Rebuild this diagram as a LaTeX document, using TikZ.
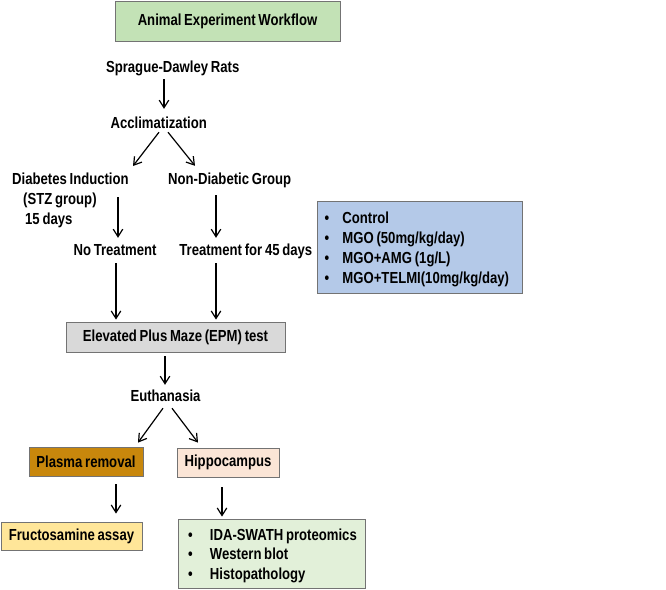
\documentclass[tikz,border=0pt]{standalone}
\usepackage{fontspec}
\setmainfont{Liberation Sans}[FakeStretch=0.82,WordSpace=0.75]
\usetikzlibrary{arrows.meta,shadows}
\definecolor{titlegreen}{HTML}{C3E2B6}
\definecolor{listblue}{HTML}{B4C9E8}
\definecolor{epmgray}{HTML}{D9D9D9}
\definecolor{plasmabrown}{HTML}{C8870C}
\definecolor{hippopink}{HTML}{FBE5D6}
\definecolor{frucyellow}{HTML}{FFE699}
\definecolor{listgreen}{HTML}{E2F0D9}
\tikzset{
  lbl/.style={font=\bfseries\fontsize{16}{18}\selectfont, inner sep=0pt, text height=12pt, text depth=3.5pt},
  multi/.style={font=\bfseries\fontsize{16}{20}\selectfont, inner sep=0pt, align=left},
  boxed/.style={draw=black!55, line width=0.8pt, inner sep=0pt,
    font=\bfseries\fontsize{16}{18}\selectfont,
    drop shadow={shadow xshift=1.2pt, shadow yshift=-1.2pt, opacity=0.3, fill=black}},
  arr/.style={-{Straight Barb[length=7.5pt,width=9.5pt]}, line width=1.2pt},
}
\begin{document}
\begin{tikzpicture}[x=1pt,y=-1pt]
\useasboundingbox (0,0) rectangle (666,589);

% boxes
\node[boxed, fill=titlegreen, minimum width=225pt, minimum height=40pt] (title) at (227.5,21) {Animal Experiment Workflow};
\node[boxed, fill=listblue, minimum width=205pt, minimum height=92pt,
      font=\bfseries\fontsize{16}{20}\selectfont] (groups) at (419.5,247)
  {\raisebox{-2pt}[\height][\depth]{\makebox[196pt][l]{\begin{tabular}{@{\hspace{3pt}}p{18pt}@{}l@{}}
   \textbullet & Control\\
   \textbullet & MGO (50mg/kg/day)\\
   \textbullet & MGO+AMG (1g/L)\\
   \textbullet & MGO+TELMI(10mg/kg/day)
   \end{tabular}}}};
\node[boxed, fill=epmgray, minimum width=219pt, minimum height=30pt] (epm) at (175.5,337) {Elevated Plus Maze (EPM) test};
\node[boxed, fill=plasmabrown, minimum width=114pt, minimum height=29pt] (plasma) at (86,461.5) {Plasma removal};
\node[boxed, fill=hippopink, minimum width=102pt, minimum height=29pt] (hippo) at (228,462.5) {Hippocampus};
\node[boxed, fill=frucyellow, minimum width=141pt, minimum height=28pt] (fruc) at (71.5,536) {Fructosamine assay};
\node[boxed, fill=listgreen, minimum width=187pt, minimum height=69pt,
      font=\bfseries\fontsize{16}{19.5}\selectfont] (analyses) at (271.5,553.5)
  {\raisebox{-2.5pt}[\height][\depth]{\makebox[185pt][l]{\begin{tabular}{@{\hspace{9pt}}p{22pt}@{}l@{}}
   \textbullet & IDA-SWATH proteomics\\
   \textbullet & Western blot\\
   \textbullet & Histopathology
   \end{tabular}}}};

% plain labels
\node[lbl] (spr) at (172.7,68.5) {Sprague-Dawley Rats};
\node[lbl] (acc) at (158.7,124.5) {Acclimatization};
\node[multi, anchor=north west] (diab) at (12,173)
  {Diabetes Induction\\\hspace*{11pt}(STZ group)\\\hspace*{13pt}15 days};
\node[lbl] (nondiab) at (229.7,180.5) {Non-Diabetic Group};
\node[lbl] (notreat) at (115,251.5) {No Treatment};
\node[lbl] (treat) at (245.8,251.5) {Treatment for 45 days};
\node[lbl] (euth) at (165.5,397.5) {Euthanasia};

% connectors
\draw[arr] ([shift={(-8.7,2.75)}]spr.south) -- ([shift={(5.3,-7.75)}]acc.north);
\draw[arr] ([shift={(0.3,-0.25)}]acc.south) -- ([shift={(121,-7)}]diab.north west);
\draw[arr] ([shift={(9.3,-0.25)}]acc.south) -- ([shift={(-34.7,-6.75)}]nondiab.north);
\draw[arr] ([shift={(106,24)}]diab.north west) -- ([shift={(3,-5.75)}]notreat.north);
\draw[arr] ([shift={(-13.7,6.75)}]nondiab.south) -- ([shift={(-29.8,-5.75)}]treat.north);
\draw[arr] ([shift={(1,3.75)}]notreat.south) -- ([shift={(-59.5,-2)}]epm.north);
\draw[arr] ([shift={(-29.8,3.75)}]treat.south) -- ([shift={(40.5,-2)}]epm.north);
\draw[arr] ([shift={(-10.5,4)}]epm.south) -- ([shift={(-0.5,-4.75)}]euth.north);
\draw[arr] ([shift={(-2.5,2.75)}]euth.south) -- ([shift={(52,-4)}]plasma.north);
\draw[arr] ([shift={(6.5,2.75)}]euth.south) -- ([shift={(-30,-5)}]hippo.north);
\draw[arr] ([shift={(30,8)}]plasma.south) -- ([shift={(44.5,-8)}]fruc.north);
\draw[arr] ([shift={(-6,10)}]hippo.south) -- ([shift={(-49.5,-2)}]analyses.north);
\end{tikzpicture}
\end{document}
